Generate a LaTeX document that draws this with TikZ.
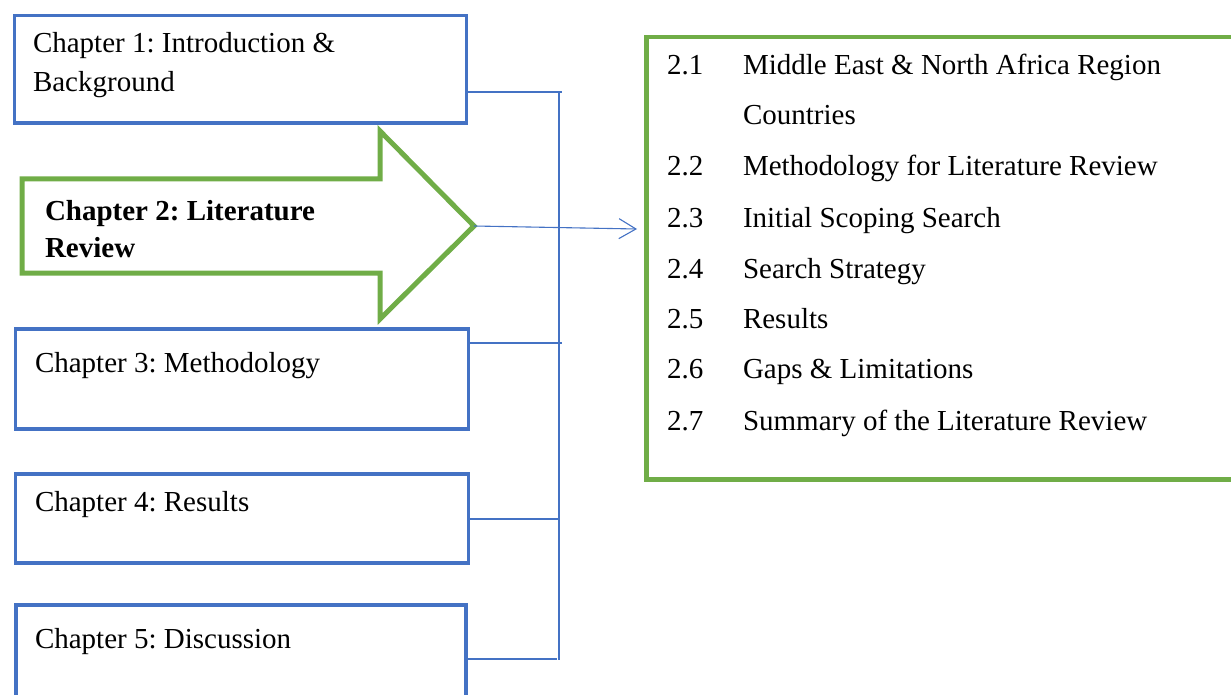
\documentclass[tikz,border=0pt]{standalone}
\usepackage{fontspec}
\setmainfont{Liberation Serif}
\usetikzlibrary{arrows.meta}
\definecolor{boxblue}{RGB}{68,114,196}
\definecolor{boxgreen}{RGB}{112,173,71}
\tikzset{
  chapbox/.style={draw=boxblue, line width=3.5pt, rectangle, inner sep=0pt, anchor=north west},
  listbox/.style={draw=boxgreen, line width=4.5pt, rectangle, inner sep=0pt, anchor=north west},
  bigarrow/.style={draw=boxgreen, line width=5pt, line join=miter},
  txt/.style={anchor=base west, inner sep=0pt, outer sep=0pt, font=\fontsize{29}{39}\selectfont},
  conn/.style={draw=boxblue, line width=1.1pt},
  connarrow/.style={conn, -{Straight Barb[length=17pt,width=20pt,line width=1.1pt]}}
}
\frenchspacing
\begin{document}
\begin{tikzpicture}[x=1pt,y=-1pt]
\useasboundingbox (0,0) rectangle (1231,695);
% chapter boxes
\node[chapbox, minimum width=452pt, minimum height=107.5pt] (b1) at (12.5,14) {};
\node[chapbox, minimum width=453pt, minimum height=100pt] (b3) at (13.5,327) {};
\node[chapbox, minimum width=453pt, minimum height=89pt] (b4) at (13.5,472) {};
\node[chapbox, minimum width=450pt, minimum height=120pt] (b5) at (14,603) {};
% big arrow for chapter 2
\coordinate (tip) at (474,226);
\draw[bigarrow] (22,179) -- (380,179) -- (380,131) -- (tip) -- (380,319) -- (380,273) -- (22,273) -- cycle;
% list box
\node[listbox, minimum width=620pt, minimum height=442pt] (lb) at (644,35) {};
% texts
\node[txt] (t1a) at (33,53) {Chapter 1: Introduction \&};
\node[txt] (t1b) at (33,92) {Background};
\node[txt, font=\fontsize{29}{39}\selectfont\bfseries] (t2a) at (45,220) {Chapter 2: Literature};
\node[txt, font=\fontsize{29}{39}\selectfont\bfseries] (t2b) at (45,257) {Review};
\node[txt] (t3) at (35,372) {Chapter 3: Methodology};
\node[txt] (t4) at (35,511) {Chapter 4: Results};
\node[txt] (t5) at (35,648) {Chapter 5: Discussion};
% list items
\foreach \n/\y/\s in {1/75/{Middle East \& North Africa Region},
                     2/176/{Methodology for Literature Review},
                     3/227/{Initial Scoping Search},
                     4/278/{Search Strategy},
                     5/328/{Results},
                     6/378/{Gaps \& Limitations},
                     7/430/{Summary of the Literature Review}}{
  \node[txt] (n\n) at (667,\y) {2.\n};
  \node[txt] (s\n) at (743,\y) {\s};
}
\node[txt] (s1b) at (743,125) {Countries};
% connectors
\coordinate (bus1) at (562,92);
\coordinate (bus3) at (562,343);
\coordinate (bus4) at (559,519);
\coordinate (bus5) at (557,659);
\coordinate (bustop) at (559,92);
\coordinate (busbot) at (559,660);
\draw[conn] (bustop) -- (busbot);
\draw[conn] (b1.east |- bus1) -- (bus1);
\draw[conn] (b3.east |- bus3) -- (bus3);
\draw[conn] (b4.east |- bus4) -- (bus4);
\draw[conn] (b5.east |- bus5) -- (bus5);
\coordinate (arrend) at (637,229);
\draw[connarrow] (tip) -- (arrend);
\end{tikzpicture}
\end{document}
